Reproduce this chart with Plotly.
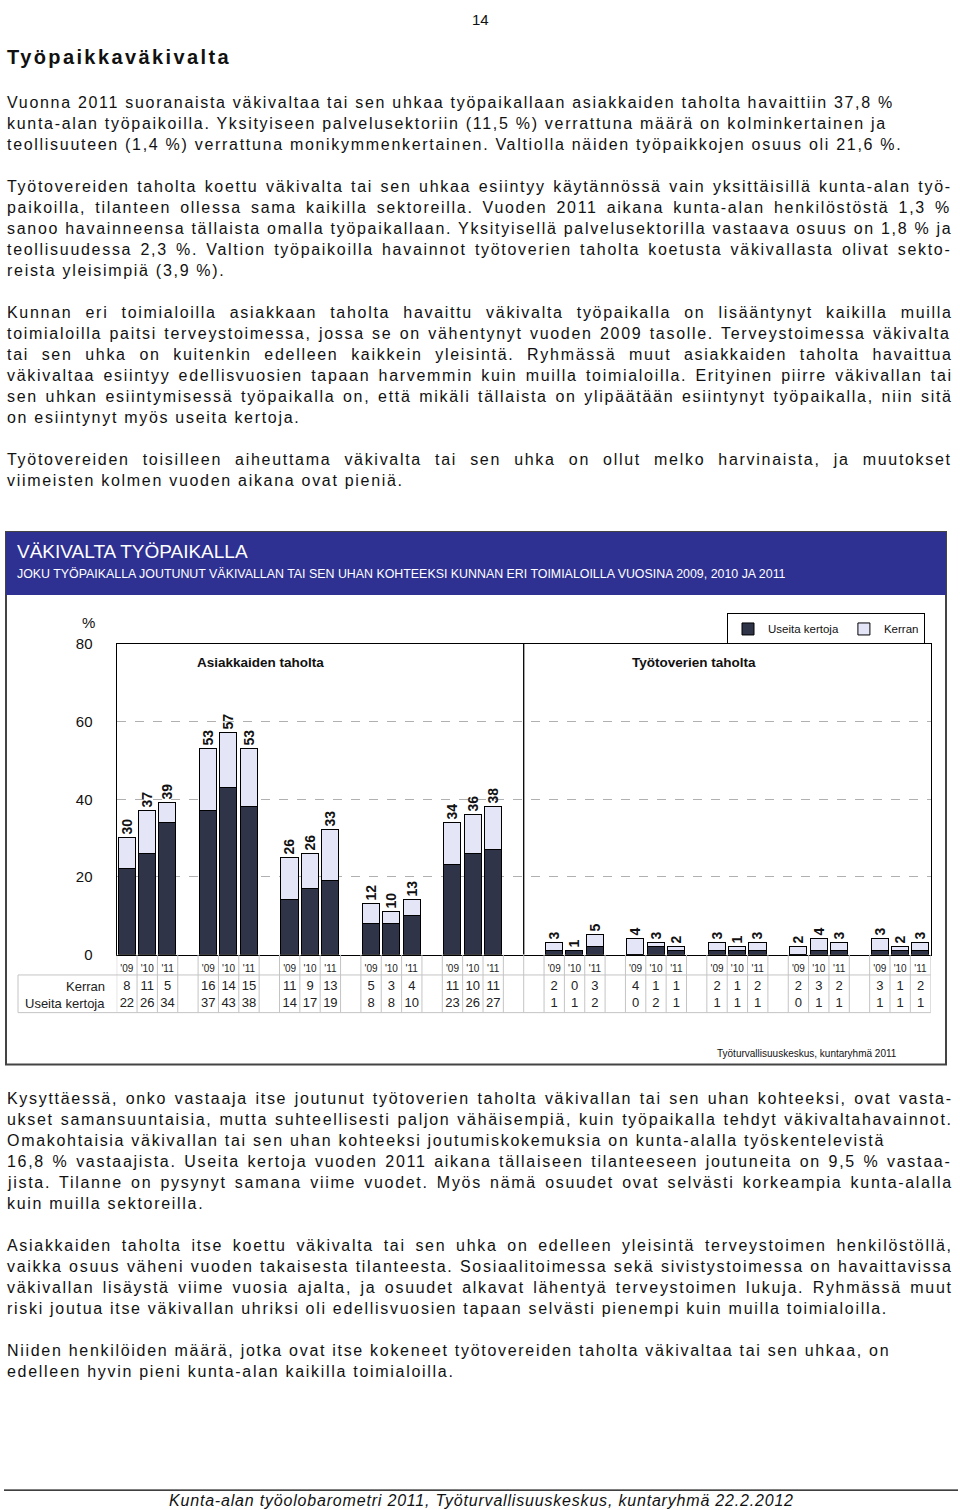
import plotly.graph_objects as go

# data
sectors = ["Sosiaali", "Terveys", "Sivistys", "Muut", "Kunnat"]
years = ["'09", "'10", "'11"]

# Asiakkaiden taholta (per sector: '09, '10, '11)
asiakas_kerran = [8, 11, 5, 16, 14, 15, 11, 9, 13, 5, 3, 4, 11, 10, 11]
asiakas_useita = [22, 26, 34, 37, 43, 38, 14, 17, 19, 8, 8, 10, 23, 26, 27]
asiakas_yht = [30, 37, 39, 53, 57, 53, 26, 26, 33, 12, 10, 13, 34, 36, 38]

# Työtoverien taholta
tyotoveri_kerran = [2, 0, 3, 4, 1, 1, 2, 1, 2, 2, 3, 2, 3, 1, 2]
tyotoveri_useita = [1, 1, 2, 0, 2, 1, 1, 1, 1, 0, 1, 1, 1, 1, 1]
tyotoveri_yht = [3, 1, 5, 4, 3, 2, 3, 1, 3, 2, 4, 3, 3, 2, 3]

W, H = 960, 1510
DARK = "#2f3448"
LIGHT = "#e5e5f8"
BODY = "Liberation Sans, Arial, sans-serif"
CHART = "Liberation Sans, Arial, sans-serif"

# the photographed page comes out slightly squeezed vertically, so page y is
# mapped through this before it becomes a paper coordinate
Y_OFF, Y_SCALE = 7.5, 0.9896


def px(x):
    return x / W


def py(y):
    return 1 - ((y - Y_OFF) / Y_SCALE) / H


# Arial / Liberation Sans widths (1/1000 em), used to imitate the justified page text
AW = {' ': 278, '%': 889, "'": 191, '(': 333, ')': 333, ',': 278, '-': 333, '.': 278}
for c in "0123456789":
    AW[c] = 556
AW.update(dict(zip("ABCDEFGHIJKLMNOPQRSTUVWXYZ",
                   [667, 667, 722, 722, 667, 611, 778, 722, 278, 500, 667, 556, 833,
                    722, 778, 667, 778, 722, 667, 611, 722, 667, 944, 667, 667, 611])))
AW.update(dict(zip("abcdefghijklmnopqrstuvwxyz",
                   [556, 556, 500, 556, 556, 278, 556, 556, 222, 222, 500, 222, 833,
                    556, 556, 556, 556, 333, 500, 278, 556, 500, 722, 500, 500, 500])))
AW.update({'ä': 556, 'ö': 556, 'Ä': 667, 'Ö': 778})

FS = 16


def nat(s, size=FS):
    return sum(AW.get(c, 556) for c in s) * size / 1000


paragraphs = [
    (101, [
        ("Vuonna 2011 suoranaista väkivaltaa tai sen uhkaa työpaikallaan asiakkaiden taholta havaittiin 37,8 %", False),
        ("kunta-alan työpaikoilla. Yksityiseen palvelusektoriin (11,5 %) verrattuna määrä on kolminkertainen ja", False),
        ("teollisuuteen (1,4 %) verrattuna monikymmenkertainen. Valtiolla näiden työpaikkojen osuus oli 21,6 %.", False),
    ]),
    (185, [
        ("Työtovereiden taholta koettu väkivalta tai sen uhkaa esiintyy käytännössä vain yksittäisillä kunta-alan työ-", True),
        ("paikoilla, tilanteen ollessa sama kaikilla sektoreilla. Vuoden 2011 aikana kunta-alan henkilöstöstä 1,3 %", True),
        ("sanoo havainneensa tällaista omalla työpaikallaan. Yksityisellä palvelusektorilla vastaava osuus on 1,8 % ja", True),
        ("teollisuudessa 2,3 %. Valtion työpaikoilla havainnot työtoverien taholta koetusta väkivallasta olivat sekto-", True),
        ("reista yleisimpiä (3,9 %).", False),
    ]),
    (311, [
        ("Kunnan eri toimialoilla asiakkaan taholta havaittu väkivalta työpaikalla on lisääntynyt kaikilla muilla", True),
        ("toimialoilla paitsi terveystoimessa, jossa se on vähentynyt vuoden 2009 tasolle. Terveystoimessa väkivalta", True),
        ("tai sen uhka on kuitenkin edelleen kaikkein yleisintä. Ryhmässä muut asiakkaiden taholta havaittua", True),
        ("väkivaltaa esiintyy edellisvuosien tapaan harvemmin kuin muilla toimialoilla. Erityinen piirre väkivallan tai", True),
        ("sen uhkan esiintymisessä työpaikalla on, että mikäli tällaista on ylipäätään esiintynyt työpaikalla, niin sitä", True),
        ("on esiintynyt myös useita kertoja.", False),
    ]),
    (458, [
        ("Työtovereiden toisilleen aiheuttama väkivalta tai sen uhka on ollut melko harvinaista, ja muutokset", True),
        ("viimeisten kolmen vuoden aikana ovat pieniä.", False),
    ]),
    (1098, [
        ("Kysyttäessä, onko vastaaja itse joutunut työtoverien taholta väkivallan tai sen uhan kohteeksi, ovat vasta-", True),
        ("ukset samansuuntaisia, mutta suhteellisesti paljon vähäisempiä, kuin työpaikalla tehdyt väkivaltahavainnot.", True),
        ("Omakohtaisia väkivallan tai sen uhan kohteeksi joutumiskokemuksia on kunta-alalla työskentelevistä", False),
        ("16,8 % vastaajista. Useita kertoja vuoden 2011 aikana tällaiseen tilanteeseen joutuneita on 9,5 % vastaa-", True),
        ("jista. Tilanne on pysynyt samana viime vuodet. Myös nämä osuudet ovat selvästi korkeampia kunta-alalla", True),
        ("kuin muilla sektoreilla.", False),
    ]),
    (1245, [
        ("Asiakkaiden taholta itse koettu väkivalta tai sen uhka on edelleen yleisintä terveystoimen henkilöstöllä,", True),
        ("vaikka osuus väheni vuoden takaisesta tilanteesta. Sosiaalitoimessa sekä sivistystoimessa on havaittavissa", True),
        ("väkivallan lisäystä viime vuosia ajalta, ja osuudet alkavat lähentyä terveystoimen lukuja. Ryhmässä muut", True),
        ("riski joutua itse väkivallan uhriksi oli edellisvuosien tapaan selvästi pienempi kuin muilla toimialoilla.", False),
    ]),
    (1350, [
        ("Niiden henkilöiden määrä, jotka ovat itse kokeneet työtovereiden taholta väkivaltaa tai sen uhkaa, on", False),
        ("edelleen hyvin pieni kunta-alan kaikilla toimialoilla.", False),
    ]),
]

ref_line = paragraphs[0][1][0][0]
LS = (889 - nat(ref_line)) / len(ref_line)
FULL = 946

# bar positions: 3 bars + one empty slot per sector, right panel starts after an empty slot
xs = []
for p in range(2):
    for g in range(len(sectors)):
        for j in range(len(years)):
            xs.append(p * 20 + p + g * 4 + j)

kerran = asiakas_kerran + tyotoveri_kerran
useita = asiakas_useita + tyotoveri_useita
yht = asiakas_yht + tyotoveri_yht

fig = go.Figure()
fig.add_bar(x=xs, y=useita, name="Useita kertoja", width=0.84,
            marker=dict(color=DARK, line=dict(color="black", width=1)))
fig.add_bar(x=xs, y=kerran, name="Kerran", width=0.84,
            marker=dict(color=LIGHT, line=dict(color="black", width=1)),
            text=[str(v) for v in yht], textposition="outside", textangle=-90,
            constraintext="none", cliponaxis=False,
            textfont=dict(family=CHART, size=14, color="#111", weight="bold"))

# table under the bars
fig.add_scatter(x=xs, y=[0] * len(xs), yaxis="y2", mode="text", text=years * 10,
                textfont=dict(family=CHART, size=10, color="#222"), showlegend=False,
                cliponaxis=False, hoverinfo="skip")
fig.add_scatter(x=xs, y=[1] * len(xs), yaxis="y2", mode="text", text=[str(v) for v in kerran],
                textfont=dict(family=CHART, size=13, color="#222"), showlegend=False,
                cliponaxis=False, hoverinfo="skip")
fig.add_scatter(x=xs, y=[2] * len(xs), yaxis="y2", mode="text", text=[str(v) for v in useita],
                textfont=dict(family=CHART, size=13, color="#222"), showlegend=False,
                cliponaxis=False, hoverinfo="skip")
fig.add_scatter(x=xs[1::3], y=[3.2] * 10, yaxis="y2", mode="text", text=sectors * 2,
                textfont=dict(family=CHART, size=13, color="#222"), showlegend=False,
                cliponaxis=False, hoverinfo="skip")

shapes = []
# chart frame and header
shapes.append(dict(type="rect", xref="paper", yref="paper", x0=px(6), x1=px(946),
                   y0=py(1064), y1=py(531), line=dict(color="#444", width=2)))
shapes.append(dict(type="rect", xref="paper", yref="paper", x0=px(6), x1=px(946),
                   y0=py(594), y1=py(531), fillcolor="#2e3192", line=dict(width=0)))
# panel divider
shapes.append(dict(type="line", xref="x", yref="y", x0=19.5, x1=19.5, y0=0, y1=80,
                   line=dict(color="black", width=1.3)))
# table grid
for k in range(41):
    shapes.append(dict(type="line", xref="x", yref="paper", x0=k - 0.5, x1=k - 0.5,
                       y0=py(954), y1=py(1012), line=dict(color="#c4c4c4", width=1)))
for yy in (974.3, 1012):
    shapes.append(dict(type="line", xref="paper", yref="paper", x0=px(18), x1=px(930.7),
                       y0=py(yy), y1=py(yy), line=dict(color="#c4c4c4", width=1)))
shapes.append(dict(type="line", xref="paper", yref="paper", x0=px(18), x1=px(18),
                   y0=py(974.3), y1=py(1012), line=dict(color="#c4c4c4", width=1)))
# footer rule
shapes.append(dict(type="line", xref="paper", yref="paper", x0=px(4), x1=px(958),
                   y0=py(1490), y1=py(1490), line=dict(color="black", width=1.2)))

ann = []


def note(x, y, text, size, family=CHART, color="#111", xanchor="left", **kw):
    ann.append(dict(x=px(x), y=py(y), xref="paper", yref="paper", text=text, showarrow=False,
                    xanchor=xanchor, yanchor="middle", font=dict(family=family, size=size, color=color),
                    **kw))


# page number sits at the very top edge; keep it fully inside the figure
ann.append(dict(x=0.5, y=1, xref="paper", yref="paper", text="14", showarrow=False,
                xanchor="center", yanchor="top", font=dict(family=BODY, size=15, color="#111")))
note(5, 56, '<b><span style="letter-spacing:2.4px">Työpaikkaväkivalta</span></b>', 20, family=BODY)

for y0, lines in paragraphs:
    for i, (line, just) in enumerate(lines):
        style = "letter-spacing:%.2fpx" % LS
        if just:
            spaces = line.count(" ")
            ws = (FULL - nat(line) - LS * len(line)) / max(spaces, 1)
            style += ";word-spacing:%.2fpx" % ws
        note(5, y0 + 21 * i, '<span style="%s">%s</span>' % (style, line), FS, family=BODY)

footer = "Kunta-alan työolobarometri 2011, Työturvallisuuskeskus, kuntaryhmä 22.2.2012"
LSF = (627 - nat(footer)) / len(footer)

note(15, 550, "VÄKIVALTA TYÖPAIKALLA", 19, color="white")
note(15, 573, "JOKU TYÖPAIKALLA JOUTUNUT VÄKIVALLAN TAI SEN UHAN KOHTEEKSI KUNNAN ERI TOIMIALOILLA VUOSINA 2009, 2010 JA 2011",
     12.4, color="white")
note(88, 622, "%", 15, xanchor="center")
note(260, 662, "<b>Asiakkaiden taholta</b>", 13.5, xanchor="center")
note(694, 662, "<b>Työtoverien taholta</b>", 13.5, xanchor="center")
note(899, 1053, "Työturvallisuuskeskus, kuntaryhmä 2011", 10, xanchor="right")
note(481, 1500, '<i><span style="letter-spacing:%.2fpx">%s</span></i>' % (LSF, footer),
     FS, family=BODY, xanchor="center")

for label, row in (("Kerran", 1), ("Useita kertoja", 2)):
    ann.append(dict(x=px(107), y=row, xref="paper", yref="y2", text=label, showarrow=False,
                    xanchor="right", yanchor="middle", font=dict(family=CHART, size=13, color="#222")))

fig.update_layout(
    width=W, height=H, margin=dict(l=0, r=0, t=0, b=0),
    paper_bgcolor="white", plot_bgcolor="white",
    barmode="stack", bargap=0,
    shapes=shapes, annotations=ann,
    xaxis=dict(domain=[px(116.7), px(930.7)], range=[-0.5, 39.5], showticklabels=False,
               showgrid=False, zeroline=False, showline=True, mirror=True,
               linecolor="black", linewidth=1.3, ticks="", fixedrange=True),
    yaxis=dict(domain=[py(954), py(643)], range=[0, 80], tickvals=[0, 20, 40, 60, 80],
               showgrid=True, gridcolor="#b0b0b0", griddash="dash", gridwidth=1,
               zeroline=False, showline=True, mirror=True, linecolor="black", linewidth=1.3,
               ticks="", ticklabelstandoff=20, tickfont=dict(family=CHART, size=15, color="#111"),
               fixedrange=True),
    yaxis2=dict(domain=[py(1012), py(954)], range=[2.53, -0.88], visible=False,
                anchor="x", fixedrange=True),
    legend=dict(orientation="h", x=px(925), xanchor="right", y=py(628), yanchor="middle",
                bordercolor="black", borderwidth=1, bgcolor="white", traceorder="normal",
                font=dict(family=CHART, size=11.5, color="#111"), itemwidth=30),
    showlegend=True,
)

page_css = ("var d=document.documentElement,b=document.body;"
            "d.style.margin='0';d.style.padding='0';b.style.margin='0';b.style.padding='0';")
fig.write_html("out.html", config={"displayModeBar": False}, post_script=page_css)
